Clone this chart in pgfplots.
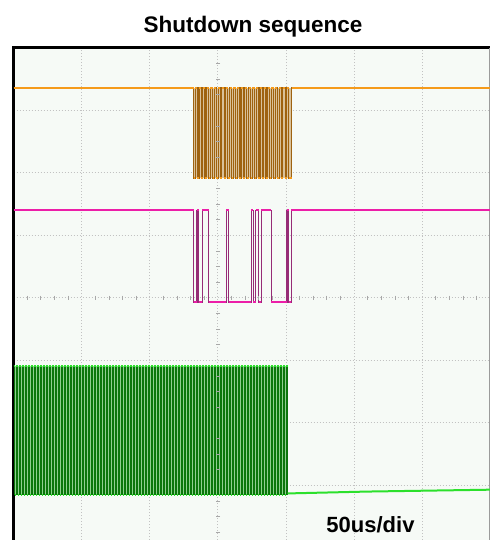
\documentclass[border=0pt]{standalone}
\usepackage{pgfplots}
\pgfplotsset{compat=1.18}
\usepackage{fontspec}
\setmainfont{Liberation Sans}

% scope palette
\definecolor{scopebg}{HTML}{F6FAF6}
\definecolor{gridgray}{HTML}{C2C2C2}
\definecolor{tickgray}{HTML}{A8A8A8}
\definecolor{chA}{HTML}{F59A1A}
\definecolor{chAedge}{HTML}{9E6210}
\definecolor{chAfill}{HTML}{D9C19A}
\definecolor{chB}{HTML}{EC1EA8}
\definecolor{chBedge}{HTML}{962C76}
\definecolor{chC}{HTML}{2CE02C}
\definecolor{chCedge}{HTML}{0A760A}
\definecolor{chCfill}{HTML}{8FCF8F}

% channel levels in divisions
\def\AH{7.36}\def\AL{5.91}
\def\BH{5.40}\def\BL{3.93}
\def\CH{2.91}\def\CL{0.85}

\begin{document}
\begin{tikzpicture}
\useasboundingbox (0,0) rectangle (490bp,540bp);
\begin{axis}[
  at={(13.5bp,492.2bp)}, anchor=north west,
  scale only axis, width=476.7bp, height=492.2bp,
  xmin=0, xmax=350, ymin=0.125, ymax=8,
  axis x line*=top, axis y line*=left,
  axis line style={-, black, line cap=rect},
  x axis line style={line width=2.6bp},
  y axis line style={line width=3.2bp},
  axis background/.style={fill=scopebg},
  xtick={50,100,...,300}, ytick={1,2,...,7},
  xticklabels={}, yticklabels={},
  major tick length=0pt, tick style={draw=none},
  grid=major,
  major grid style={draw=gridgray, line width=0.7bp, dash pattern=on 1bp off 2bp},
]
% right edge of the screen
\addplot[draw=gridgray!80!black, line width=1.5bp] coordinates {(350,0.125)(350,8)};

% graticule subdivisions on the centre lines
\addplot[only marks, mark=-, mark size=2.2bp, tickgray, mark options={line width=0.6bp}] coordinates {
(150,0.25)(150,0.5)(150,0.75)(150,1.25)(150,1.5)(150,1.75)(150,2.25)(150,2.5)(150,2.75)
(150,3.25)(150,3.5)(150,3.75)(150,4.25)(150,4.5)(150,4.75)(150,5.25)(150,5.5)(150,5.75)
(150,6.25)(150,6.5)(150,6.75)(150,7.25)(150,7.5)(150,7.75)};
\addplot[only marks, mark=|, mark size=2.2bp, tickgray, mark options={line width=0.6bp}] coordinates {
(10,4)(20,4)(30,4)(40,4)(60,4)(70,4)(80,4)(90,4)(110,4)(120,4)(130,4)(140,4)
(160,4)(170,4)(180,4)(190,4)(210,4)(220,4)(230,4)(240,4)(260,4)(270,4)(280,4)(290,4)
(310,4)(320,4)(330,4)(340,4)};

% channel 1 (orange)
\addplot[draw=none, fill=chAfill] coordinates {(132.2,\AL)(204.4,\AL)(204.4,\AH)(132.2,\AH)} -- cycle;
\pgfplotstableread{
x y
0 7.36
132.2 5.91
133.4 7.36
135.0 5.91
136.2 7.36
137.8 5.91
139.0 7.36
140.6 5.91
141.8 7.36
143.4 5.91
144.6 7.36
146.2 5.91
147.4 7.36
149.0 5.91
150.2 7.36
151.8 5.91
153.0 7.36
154.6 5.91
155.8 7.36
157.4 5.91
158.6 7.36
160.2 5.91
161.4 7.36
163.0 5.91
164.2 7.36
165.8 5.91
167.0 7.36
168.6 5.91
169.8 7.36
171.4 5.91
172.6 7.36
174.2 5.91
175.4 7.36
177.0 5.91
178.2 7.36
179.8 5.91
181.0 7.36
182.6 5.91
183.8 7.36
185.4 5.91
186.6 7.36
188.2 5.91
189.4 7.36
191.0 5.91
192.2 7.36
193.8 5.91
195.0 7.36
196.6 5.91
197.8 7.36
199.4 5.91
200.6 7.36
202.2 5.91
204.4 7.36
350 7.36
}\chA
\addplot[const plot, draw=chAedge, line width=1.1bp] table {\chA};
\addplot[jump mark left, draw=chA, line width=2.0bp] table {\chA};

% channel 2 (magenta)
\pgfplotstableread{
x y
0 5.40
132.2 3.93
134.7 5.40
135.9 3.93
138.6 5.40
143.5 3.93
156.2 5.40
158.1 3.93
174.5 5.40
176.2 3.93
177.7 5.40
180.1 3.93
181.8 5.40
189.2 3.93
200.8 5.40
202.0 3.93
204.0 5.40
350 5.40
}\chB
\addplot[const plot, draw=chBedge, line width=1.1bp] table {\chB};
\addplot[jump mark left, draw=chB, line width=2.0bp] table {\chB};

% channel 3 (green)
\addplot[draw=none, fill=chCfill] coordinates {(0,\CL)(201.2,\CL)(201.2,\CH)(0,\CH)} -- cycle;
\pgfplotstableread{
x y
0 2.91
1 0.85
2.2 2.91
3.2 0.85
4.4 2.91
5.4 0.85
6.6 2.91
7.6 0.85
8.8 2.91
9.8 0.85
11 2.91
12 0.85
13.2 2.91
14.2 0.85
15.4 2.91
16.4 0.85
17.6 2.91
18.6 0.85
19.8 2.91
20.8 0.85
22 2.91
23 0.85
24.2 2.91
25.2 0.85
26.4 2.91
27.4 0.85
28.6 2.91
29.6 0.85
30.8 2.91
31.8 0.85
33 2.91
34 0.85
35.2 2.91
36.2 0.85
37.4 2.91
38.4 0.85
39.6 2.91
40.6 0.85
41.8 2.91
42.8 0.85
44 2.91
45 0.85
46.2 2.91
47.2 0.85
48.4 2.91
49.4 0.85
50.6 2.91
51.6 0.85
52.8 2.91
53.8 0.85
55 2.91
56 0.85
57.2 2.91
58.2 0.85
59.4 2.91
60.4 0.85
61.6 2.91
62.6 0.85
63.8 2.91
64.8 0.85
66 2.91
67 0.85
68.2 2.91
69.2 0.85
70.4 2.91
71.4 0.85
72.6 2.91
73.6 0.85
74.8 2.91
75.8 0.85
77 2.91
78 0.85
79.2 2.91
80.2 0.85
81.4 2.91
82.4 0.85
83.6 2.91
84.6 0.85
85.8 2.91
86.8 0.85
88 2.91
89 0.85
90.2 2.91
91.2 0.85
92.4 2.91
93.4 0.85
94.6 2.91
95.6 0.85
96.8 2.91
97.8 0.85
99 2.91
100 0.85
101.2 2.91
102.2 0.85
103.4 2.91
104.4 0.85
105.6 2.91
106.6 0.85
107.8 2.91
108.8 0.85
110 2.91
111 0.85
112.2 2.91
113.2 0.85
114.4 2.91
115.4 0.85
116.6 2.91
117.6 0.85
118.8 2.91
119.8 0.85
121 2.91
122 0.85
123.2 2.91
124.2 0.85
125.4 2.91
126.4 0.85
127.6 2.91
128.6 0.85
129.8 2.91
130.8 0.85
132 2.91
133 0.85
134.2 2.91
135.2 0.85
136.4 2.91
137.4 0.85
138.6 2.91
139.6 0.85
140.8 2.91
141.8 0.85
143 2.91
144 0.85
145.2 2.91
146.2 0.85
147.4 2.91
148.4 0.85
149.6 2.91
150.6 0.85
151.8 2.91
152.8 0.85
154 2.91
155 0.85
156.2 2.91
157.2 0.85
158.4 2.91
159.4 0.85
160.6 2.91
161.6 0.85
162.8 2.91
163.8 0.85
165 2.91
166 0.85
167.2 2.91
168.2 0.85
169.4 2.91
170.4 0.85
171.6 2.91
172.6 0.85
173.8 2.91
174.8 0.85
176 2.91
177 0.85
178.2 2.91
179.2 0.85
180.4 2.91
181.4 0.85
182.6 2.91
183.6 0.85
184.8 2.91
185.8 0.85
187 2.91
188 0.85
189.2 2.91
190.2 0.85
191.4 2.91
192.4 0.85
193.6 2.91
194.6 0.85
195.8 2.91
196.8 0.85
198 2.91
199 0.85
200.2 2.91
201.2 0.85
}\chC
\addplot[const plot, draw=chCedge, line width=1.0bp] table {\chC};
\addplot[jump mark left, draw=chC, line width=2.0bp] table {\chC};
\addplot[draw=chC, line width=2.0bp] coordinates {(201.2,0.87)(260,0.90)(350,0.93)};
\end{axis}

\node[anchor=base, inner sep=0pt, font=\bfseries\fontsize{22.5bp}{27bp}\selectfont] at (253bp,507.3bp) {Shutdown sequence};
\node[anchor=base, inner sep=0pt, font=\bfseries\fontsize{22bp}{26bp}\selectfont] at (370.5bp,7.3bp) {50us/div};
\end{tikzpicture}
\end{document}
